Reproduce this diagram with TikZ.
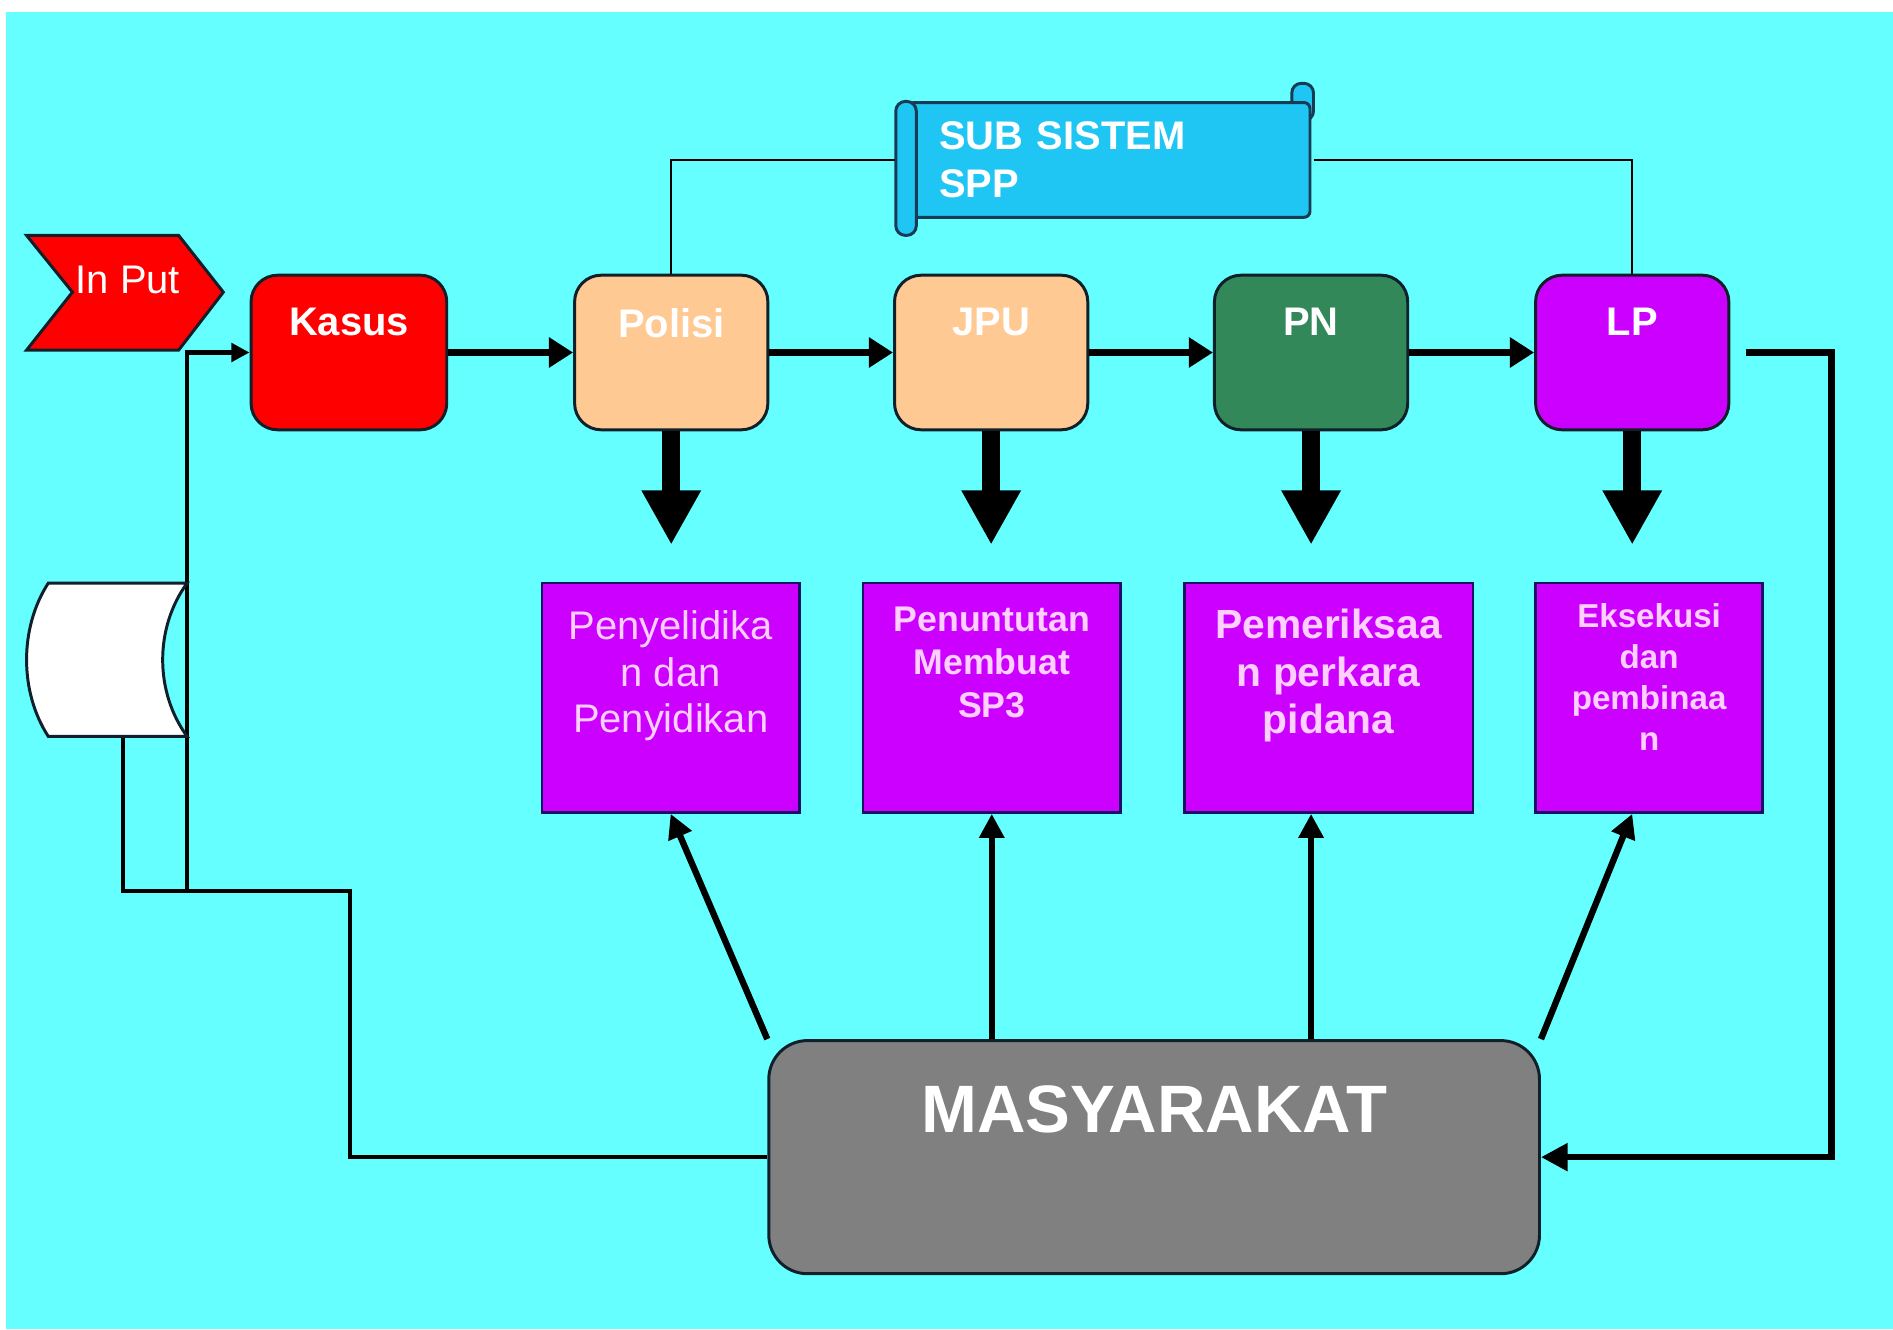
\documentclass[tikz,border=0pt]{standalone}
\usepackage{fontspec}
\setmainfont{Liberation Sans}
\usetikzlibrary{arrows.meta}

\definecolor{bgcyan}{HTML}{66FFFF}
\definecolor{kasusred}{HTML}{FF0000}
\definecolor{peach}{HTML}{FFC993}
\definecolor{pngreen}{HTML}{33885A}
\definecolor{lppurple}{HTML}{CC00FF}
\definecolor{taskpurple}{HTML}{CC00FF}
\definecolor{masygray}{HTML}{808080}
\definecolor{scrollblue}{HTML}{1FC6F4}
\definecolor{scrollline}{HTML}{173A55}
\definecolor{boxline}{HTML}{10202A}
\definecolor{taskline}{HTML}{1A0F66}
\definecolor{pinktext}{HTML}{FFD0FF}

\tikzset{
    topbox/.style={draw=boxline, line width=0.7pt, rounded corners=0.22cm,
        minimum width=1.6cm, minimum height=1.28cm, inner sep=0pt},
    toplabel/.style={anchor=north, yshift=-0.28cm, inner sep=0pt, text=white,
        font=\bfseries\fontsize{9.4}{11}\selectfont},
    taskbox/.style={draw=taskline, line width=0.6pt, fill=taskpurple,
        minimum height=1.9cm, inner sep=0pt},
    tasklabel/.style={anchor=north, inner sep=0pt, text=pinktext, align=center},
    flow/.style={line width=1.6pt, -{Triangle[width=0.24cm,length=0.2cm]}},
    bigdown/.style={line width=4.3pt, -{Triangle[width=0.46cm,length=0.45cm]}},
    uparr/.style={line width=1.5pt, -{Triangle[width=0.2cm,length=0.2cm]}},
    fbline/.style={line width=1.1pt},
    thinline/.style={line width=0.5pt},
    roll/.style={draw=scrollline, line width=0.7pt, fill=scrollblue, rounded corners=0.08cm}
}

\begin{document}
\begin{tikzpicture}[x=0.01cm, y=-0.01cm]
    \useasboundingbox (0,0) rectangle (1568,1101);
    \fill[white] (0,0) rectangle (1568,1101);
    \fill[bgcyan] (5,10) rectangle (1568,1101);

    %% input chevron
    \draw[fill=kasusred, draw=boxline, line width=0.7pt]
        (22,195) -- (148,195) -- (185,242) -- (148,290) -- (22,290) -- (60,242) -- cycle;
    \node[text=white, font=\fontsize{9.4}{11}\selectfont] (input) at (106,232) {In Put};

    %% process chain
    \node[topbox, fill=kasusred, minimum width=1.62cm, label={[toplabel]north:Kasus}] (kasus) at (289,292) {};
    \node[topbox, fill=peach, label={[toplabel]north:Polisi}] (polisi) at (556,292) {};
    \node[topbox, fill=peach, label={[toplabel]north:JPU}] (jpu) at (821,292) {};
    \node[topbox, fill=pngreen, label={[toplabel]north:PN}] (pn) at (1086,292) {};
    \node[topbox, fill=lppurple, label={[toplabel]north:LP}] (lp) at (1352,292) {};

    \draw[flow] (kasus) -- (polisi);
    \draw[flow] (polisi) -- (jpu);
    \draw[flow] (jpu) -- (pn);
    \draw[flow] (pn) -- (lp);

    %% sub sistem scroll
    \draw[thinline] (polisi.north) |- (742,132.5);
    \draw[thinline] (1088,132.5) -| (lp.north);
    \draw[roll] (1070,69) rectangle (1088,100);
    \node[fill=scrollblue, draw=scrollline, line width=0.7pt, rounded corners=0.05cm,
        text width=2.81cm, inner xsep=0.26cm, minimum height=0.95cm, align=left,
        text=white, font=\bfseries\fontsize{9.4}{11.4}\selectfont] (sub) at (918.5,132.5) {SUB SISTEM\\SPP};
    \draw[roll] (742,84) rectangle (759,195);

    %% tasks
    \node[taskbox, minimum width=2.13cm,
        label={[tasklabel, yshift=-0.23cm, font=\fontsize{9.4}{11}\selectfont]north:{Penyelidika\\n dan\\Penyidikan}}] (selidik) at (555.5,578) {};
    \node[taskbox, minimum width=2.13cm,
        label={[tasklabel, yshift=-0.2cm, font=\bfseries\fontsize{8.4}{10.2}\selectfont]north:{Penuntutan\\Membuat\\SP3}}] (tuntut) at (821.5,578) {};
    \node[taskbox, minimum width=2.39cm,
        label={[tasklabel, yshift=-0.22cm, font=\bfseries\fontsize{9.6}{11.2}\selectfont]north:{Pemeriksaa\\n perkara\\pidana}}] (periksa) at (1100.5,578) {};
    \node[taskbox, minimum width=1.88cm,
        label={[tasklabel, yshift=-0.17cm, font=\bfseries\fontsize{7.8}{9.7}\selectfont]north:{Eksekusi\\dan\\pembinaa\\n}}] (eksekusi) at (1366,578) {};

    \draw[bigdown] (polisi.south) -- ++(0,94);
    \draw[bigdown] (jpu.south) -- ++(0,94);
    \draw[bigdown] (pn.south) -- ++(0,94);
    \draw[bigdown] (lp.south) -- ++(0,94);

    %% masyarakat
    \node[fill=masygray, draw=boxline, line width=0.7pt, rounded corners=0.32cm,
        minimum width=6.38cm, minimum height=1.93cm, inner sep=0pt,
        label={[anchor=north, yshift=-0.38cm, inner sep=0pt, text=white,
            font=\bfseries\fontsize{15.8}{18}\selectfont]north:MASYARAKAT}] (masy) at (956,958.5) {};

    \draw[uparr] (masy.north west) -- (selidik.south);
    \draw[uparr] (tuntut.south |- masy.north) -- (tuntut.south);
    \draw[uparr] (pn.south |- masy.north) -- (pn.south |- periksa.south);
    \draw[uparr] (masy.north east) -- (lp.south |- eksekusi.south);

    %% return to masyarakat
    \draw[line width=1.5pt, -{Triangle[width=0.22cm,length=0.22cm]}]
        ([xshift=0.13cm]lp.east) -- (1517,292) |- (masy.east);

    %% storage and feedback
    \draw[fbline] (102,610) |- (290,738) |- (masy.west);
    \draw[fbline, -{Triangle[width=0.15cm,length=0.15cm]}] (155,738) |- (kasus.west);
    \draw[fill=white, draw=boxline, line width=0.7pt]
        (40,483) -- (155,483) .. controls (128,520) and (128,573) .. (155,610)
        -- (40,610) .. controls (16,573) and (16,520) .. (40,483) -- cycle;
    \coordinate (drumbot) at (102,610);
\end{tikzpicture}
\end{document}
